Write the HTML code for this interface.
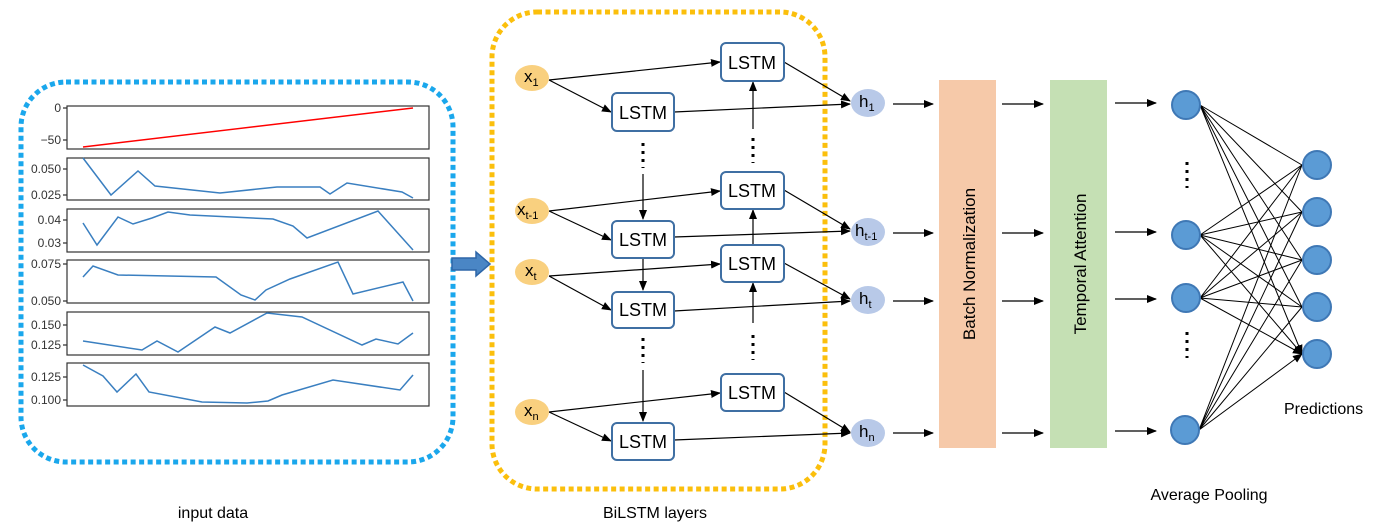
<!DOCTYPE html>
<html><head><meta charset="utf-8"><style>
html,body{margin:0;padding:0;background:#fff;}
svg{display:block;font-family:"Liberation Sans",sans-serif;}
</style></head><body>
<svg width="1387" height="529" viewBox="0 0 1387 529" xmlns="http://www.w3.org/2000/svg">
<defs>
<marker id="a" markerWidth="10" markerHeight="10" refX="9" refY="5" orient="auto" markerUnits="userSpaceOnUse">
<path d="M0,1 L10,5 L0,9 z" fill="#000"/></marker>
</defs>
<rect x="21" y="82" width="432" height="380" rx="45" fill="none" stroke="#1aa7ec" stroke-width="5" stroke-dasharray="5 3.5"/>
<rect x="492" y="12" width="333" height="477" rx="45" fill="none" stroke="#fbbf0c" stroke-width="5" stroke-dasharray="5 3.5"/>
<path d="M452,258 L476,258 L476,252 L490,264 L476,276 L476,270 L452,270 z" fill="#4a86c5" stroke="#2e66a8" stroke-width="1.5"/>
<g fill="none" stroke="#333" stroke-width="1.2">
<rect x="67" y="106" width="362" height="43"/>
<rect x="67" y="158" width="362" height="42"/>
<rect x="67" y="209" width="362" height="43"/>
<rect x="67" y="260" width="362" height="43"/>
<rect x="67" y="312" width="362" height="43"/>
<rect x="67" y="363" width="362" height="43"/>
<path d="M63,108h4M63,140h4M63,169h4M63,195h4M63,220h4M63,243h4M63,264h4M63,301h4M63,325h4M63,345h4M63,377h4M63,400h4"/>
</g>
<g font-size="12" fill="#333" text-anchor="end">
<text x="61" y="112">0</text><text x="61" y="144">−50</text>
<text x="61" y="173">0.050</text><text x="61" y="199">0.025</text>
<text x="61" y="224">0.04</text><text x="61" y="247">0.03</text>
<text x="61" y="268">0.075</text><text x="61" y="305">0.050</text>
<text x="61" y="329">0.150</text><text x="61" y="349">0.125</text>
<text x="61" y="381">0.125</text><text x="61" y="404">0.100</text>
</g>
<polyline points="83,147 413,108" fill="none" stroke="#f00" stroke-width="1.5"/>
<g fill="none" stroke="#3a7fc0" stroke-width="1.5">
<polyline points="83,158 111,195 138,171 155,186 220,193 277,187 320,187 330,194 347,183 402,192 413,198"/>
<polyline points="83,223 97,245 118,217 133,224 152,218 168,212 190,215 273,219 293,226 307,238 378,211 413,250"/>
<polyline points="83,277 93,266 118,275 216,277 241,295 255,300 266,290 290,279 338,262 353,294 403,282 413,301"/>
<polyline points="83,341 142,350 157,341 178,352 215,327 230,333 267,313 302,317 362,345 376,339 398,344 413,333"/>
<polyline points="83,365 103,376 117,392 136,374 149,392 202,402 247,403 268,401 282,395 333,380 400,390 413,375"/>
</g>
<g stroke="#000" stroke-width="1.2" fill="none" marker-end="url(#a)">
<line x1="549" y1="80" x2="720" y2="62"/><line x1="549" y1="80" x2="611" y2="112"/>
<line x1="549" y1="211" x2="720" y2="191"/><line x1="549" y1="211" x2="611" y2="240"/>
<line x1="549" y1="276" x2="720" y2="264"/><line x1="549" y1="276" x2="611" y2="310"/>
<line x1="549" y1="412" x2="720" y2="393"/><line x1="549" y1="412" x2="611" y2="441"/>
<line x1="674" y1="112" x2="850" y2="104"/><line x1="784" y1="62" x2="850" y2="101"/>
<line x1="674" y1="237" x2="850" y2="231"/><line x1="784" y1="190" x2="850" y2="229"/>
<line x1="674" y1="311" x2="850" y2="301"/><line x1="784" y1="263" x2="850" y2="299"/>
<line x1="674" y1="440" x2="850" y2="433"/><line x1="784" y1="392" x2="850" y2="432"/>
<line x1="643" y1="174" x2="643" y2="219"/><line x1="643" y1="258" x2="643" y2="290"/><line x1="643" y1="370" x2="643" y2="421"/>
<line x1="753" y1="129" x2="753" y2="82"/><line x1="753" y1="245" x2="753" y2="210"/><line x1="753" y1="323" x2="753" y2="283"/>
</g>
<g stroke="#000" stroke-width="3" stroke-dasharray="3 5">
<line x1="643" y1="143" x2="643" y2="168"/><line x1="643" y1="338" x2="643" y2="363"/>
<line x1="753" y1="138" x2="753" y2="163"/><line x1="753" y1="335" x2="753" y2="360"/>
</g>
<g fill="#fff" stroke="#3f6fa3" stroke-width="2">
<rect x="721" y="43" width="63" height="38" rx="5"/><rect x="612" y="93" width="62" height="38" rx="5"/>
<rect x="721" y="172" width="63" height="37" rx="5"/><rect x="612" y="221" width="62" height="37" rx="5"/>
<rect x="721" y="245" width="63" height="37" rx="5"/><rect x="612" y="292" width="62" height="36" rx="5"/>
<rect x="721" y="374" width="63" height="37" rx="5"/><rect x="612" y="423" width="62" height="37" rx="5"/>
</g>
<g font-size="18" text-anchor="middle" fill="#000">
<text x="752" y="69">LSTM</text><text x="643" y="119">LSTM</text>
<text x="752" y="197">LSTM</text><text x="643" y="246">LSTM</text>
<text x="752" y="270">LSTM</text><text x="643" y="316">LSTM</text>
<text x="752" y="399">LSTM</text><text x="643" y="448">LSTM</text>
</g>
<g fill="#f9d07f"><ellipse cx="532" cy="78" rx="17" ry="13"/><ellipse cx="532" cy="211" rx="17" ry="13"/><ellipse cx="532" cy="272" rx="17" ry="13"/><ellipse cx="532" cy="412" rx="17" ry="13"/></g>
<g fill="#b8c9e8"><ellipse cx="868" cy="103" rx="17" ry="14"/><ellipse cx="868" cy="232" rx="17" ry="14"/><ellipse cx="868" cy="300" rx="17" ry="14"/><ellipse cx="868" cy="433" rx="17" ry="14"/></g>
<g font-size="17" fill="#000">
<text x="524" y="82">x<tspan font-size="11" dy="4">1</tspan></text>
<text x="517" y="215">x<tspan font-size="11" dy="4">t-1</tspan></text>
<text x="525" y="276">x<tspan font-size="11" dy="4">t</tspan></text>
<text x="524" y="416">x<tspan font-size="11" dy="4">n</tspan></text>
<text x="859" y="107">h<tspan font-size="11" dy="4">1</tspan></text>
<text x="855" y="236">h<tspan font-size="11" dy="4">t-1</tspan></text>
<text x="859" y="304">h<tspan font-size="11" dy="4">t</tspan></text>
<text x="859" y="437">h<tspan font-size="11" dy="4">n</tspan></text>
</g>
<rect x="939" y="80" width="57" height="368" fill="#f6c9a9"/>
<rect x="1050" y="80" width="57" height="368" fill="#c5e0b4"/>
<text transform="translate(975,264) rotate(-90)" font-size="17" text-anchor="middle">Batch Normalization</text>
<text transform="translate(1086,264) rotate(-90)" font-size="17" text-anchor="middle">Temporal Attention</text>
<g stroke="#000" stroke-width="1.2" marker-end="url(#a)">
<line x1="893" y1="104" x2="933" y2="104"/><line x1="893" y1="233" x2="933" y2="233"/><line x1="893" y1="301" x2="933" y2="301"/><line x1="893" y1="433" x2="933" y2="433"/>
<line x1="1002" y1="104" x2="1043" y2="104"/><line x1="1002" y1="233" x2="1043" y2="233"/><line x1="1002" y1="301" x2="1043" y2="301"/><line x1="1002" y1="433" x2="1043" y2="433"/>
<line x1="1115" y1="103" x2="1156" y2="103"/><line x1="1115" y1="232" x2="1156" y2="232"/><line x1="1115" y1="299" x2="1156" y2="299"/><line x1="1115" y1="431" x2="1156" y2="431"/>
</g>
<g stroke="#000" stroke-width="1" marker-end="url(#a)">
<path d="M1200,105L1302,165M1200,105L1302,212M1200,105L1302,260M1200,105L1302,307M1200,105L1302,354"/>
<path d="M1200,235L1302,165M1200,235L1302,212M1200,235L1302,260M1200,235L1302,307M1200,235L1302,354"/>
<path d="M1200,298L1302,165M1200,298L1302,212M1200,298L1302,260M1200,298L1302,307M1200,298L1302,354"/>
<path d="M1199,430L1302,165M1199,430L1302,212M1199,430L1302,260M1199,430L1302,307M1199,430L1302,354"/>
</g>
<g fill="#5b9bd5" stroke="#3f78b5" stroke-width="2">
<circle cx="1186" cy="105" r="14"/><circle cx="1186" cy="235" r="14"/><circle cx="1186" cy="298" r="14"/><circle cx="1185" cy="430" r="14"/>
<circle cx="1317" cy="165" r="14"/><circle cx="1317" cy="212" r="14"/><circle cx="1317" cy="260" r="14"/><circle cx="1317" cy="307" r="14"/><circle cx="1317" cy="354" r="14"/>
</g>
<g stroke="#000" stroke-width="3" stroke-dasharray="3 5">
<line x1="1187" y1="162" x2="1187" y2="188"/><line x1="1187" y1="332" x2="1187" y2="358"/>
</g>
<g font-size="16" fill="#000">
<text x="1284" y="414">Predictions</text>
<text x="1209" y="500" text-anchor="middle">Average Pooling</text>
<text x="213" y="518" text-anchor="middle">input data</text>
<text x="655" y="518" text-anchor="middle">BiLSTM layers</text>
</g>
</svg>
</body></html>
